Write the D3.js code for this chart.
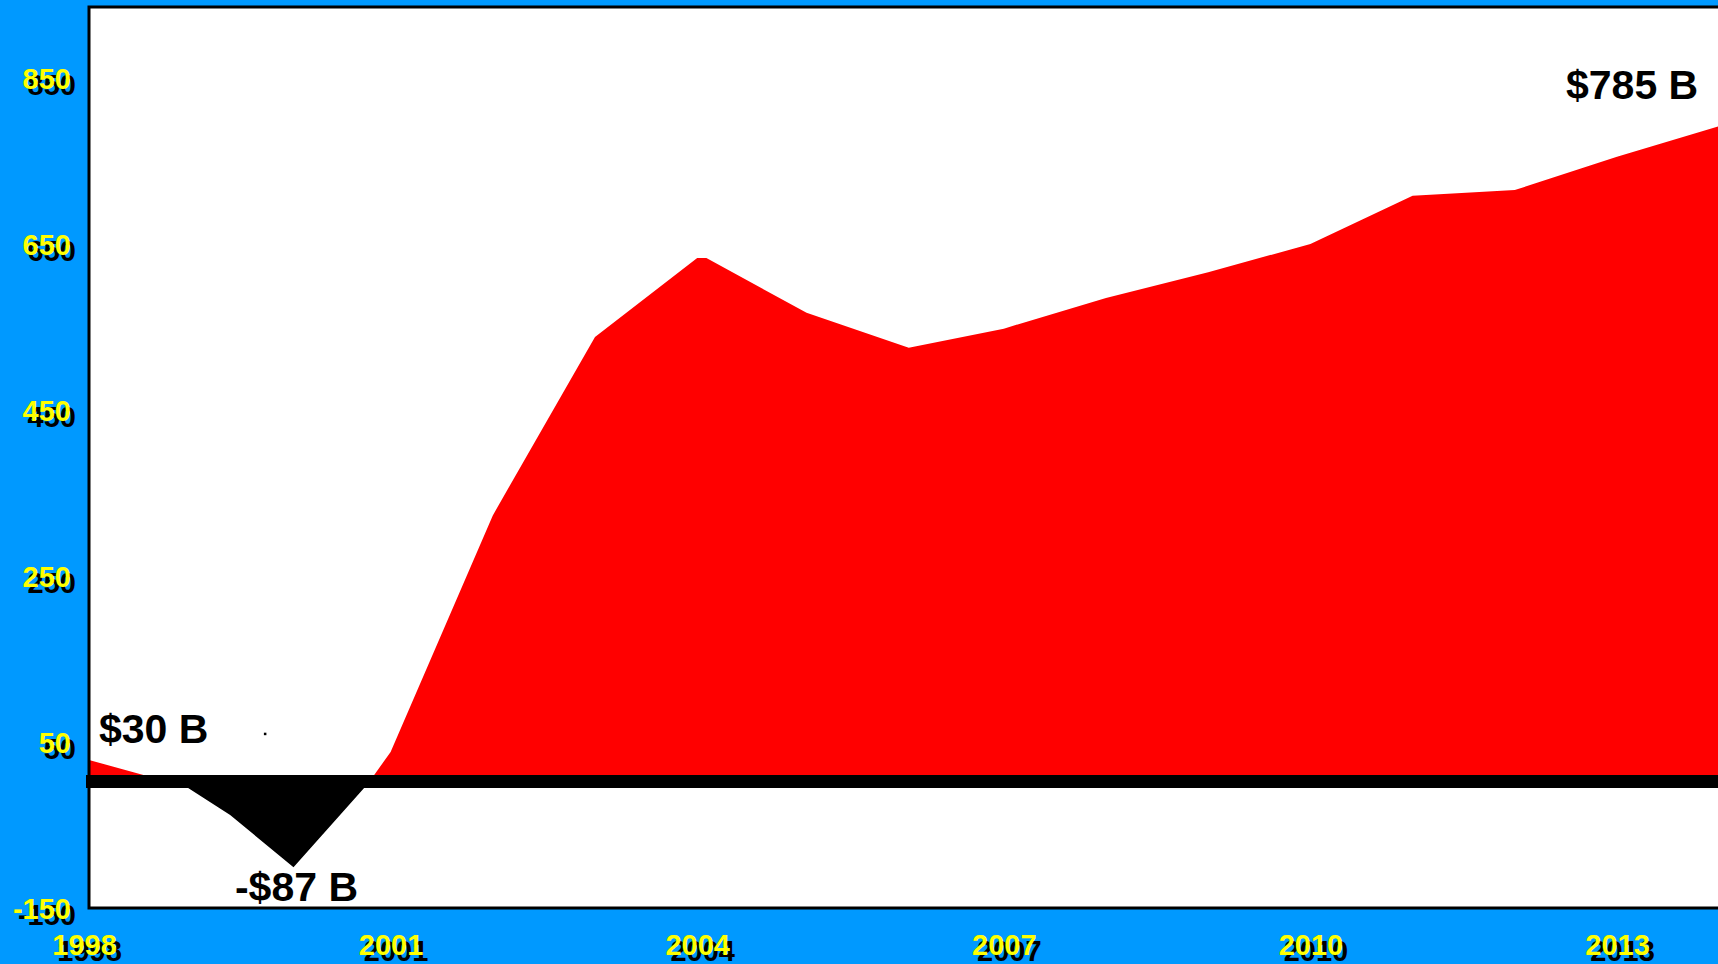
<!DOCTYPE html>
<html>
<head>
<meta charset="UTF-8">
<title>Area chart</title>
<script src="https://d3js.org/d3.v7.min.js"></script>
<style>
  html, body { margin: 0; padding: 0; background: #0099ff; }
  svg { display: block; }
</style>
</head>
<body>
<script>
  // values (billions of $), some vertices fall between years
  var years  = [1998, 1999, 1999.43, 2000.05, 2000.78, 2001, 2002, 2003, 2004, 2004.09,
                2005.07, 2006.07, 2007, 2008, 2009, 2010, 2011, 2012, 2013, 2014];
  var values = [30, -4, -38, -101, 0, 38, 323, 538, 633, 633,
                567, 525, 548, 585, 616, 650, 708, 715, 755, 792];
  var yTicks = [-150, 50, 250, 450, 650, 850];
  var xTicks = [1998, 2001, 2004, 2007, 2010, 2013];
  var labels = ["$30 B", "-$87 B", "$785 B"];
  var dotPoint = [1999.77, 60];   // the lone speck next to "$30 B"

  var width = 1718, height = 964;
  var plotLeft = 89, plotTop = 7, plotBottom = 908;

  var data = years.map(function(d, i) { return {x: d, y: values[i]}; });

  var x = d3.scaleLinear().domain([1998, 2014]).range([84, 84 + 16 * 102.2]);
  var y = d3.scaleLinear().domain([-150, 935.5]).range([plotBottom, plotTop]);

  var svg = d3.select("body").append("svg")
      .attr("width", width)
      .attr("height", height)
      .style("background-color", "#0099ff");

  var defs = svg.append("defs");
  defs.append("clipPath").attr("id", "above")
    .append("rect").attr("x", plotLeft).attr("y", plotTop)
    .attr("width", width - plotLeft + 10).attr("height", y(0) - plotTop);
  defs.append("clipPath").attr("id", "below")
    .append("rect").attr("x", plotLeft).attr("y", y(0))
    .attr("width", width - plotLeft + 10).attr("height", plotBottom - y(0));

  svg.append("rect")
    .attr("x", plotLeft).attr("y", plotTop)
    .attr("width", width - plotLeft + 10).attr("height", plotBottom - plotTop)
    .attr("fill", "#ffffff");

  var area = d3.area()
    .x(function(d) { return x(d.x); })
    .y0(y(0))
    .y1(function(d) { return y(d.y); });

  svg.append("path").datum(data)
    .attr("clip-path", "url(#above)")
    .attr("fill", "#ff0000")
    .attr("d", area);

  svg.append("path").datum(data)
    .attr("clip-path", "url(#below)")
    .attr("fill", "#000000")
    .attr("d", area);

  // heavy zero line
  svg.append("line")
    .attr("x1", 86).attr("x2", width)
    .attr("y1", y(0) - 2).attr("y2", y(0) - 2)
    .attr("stroke", "#000").attr("stroke-width", 13);

  // frame
  svg.append("rect")
    .attr("x", plotLeft).attr("y", plotTop)
    .attr("width", width - plotLeft + 20).attr("height", plotBottom - plotTop)
    .attr("fill", "none").attr("stroke", "#000").attr("stroke-width", 3);

  svg.append("rect")
    .attr("x", x(dotPoint[0]) - 1).attr("y", y(dotPoint[1]) - 1)
    .attr("width", 2.5).attr("height", 2.5)
    .attr("fill", "#000");

  // axes drawn twice: black shadow, then yellow
  function drawAxes(dx, dy, colour) {
    var ya = svg.append("g")
      .attr("transform", "translate(" + (plotLeft + dx) + "," + dy + ")")
      .call(d3.axisLeft(y).tickValues(yTicks).tickFormat(function(d) { return String(d); })
        .tickSize(0).tickPadding(18));
    var xa = svg.append("g")
      .attr("transform", "translate(" + dx + "," + (plotBottom + dy) + ")")
      .call(d3.axisBottom(x).tickValues(xTicks).tickFormat(function(d) { return String(d); })
        .tickSize(0).tickPadding(26));
    [ya, xa].forEach(function(g) {
      g.select(".domain").remove();
      g.selectAll("text")
        .attr("fill", colour)
        .style("font-family", "'Liberation Sans', Arial, sans-serif")
        .style("font-size", "29px")
        .style("font-weight", "bold");
    });
    ya.selectAll("text").attr("dy", "0.36em");
  }
  drawAxes(5, 6, "#000000");
  drawAxes(0, 0, "#ffff00");

  // value callouts
  var first = data[0], low = data[3], last = data[data.length - 1];
  var notes = [
    {t: labels[0], x: x(first.x) + 15, y: y(first.y) - 16, a: "start"},
    {t: labels[1], x: x(low.x) + 3, y: y(low.y) + 34, a: "middle"},
    {t: labels[2], x: x(last.x) - 21, y: y(last.y) - 27, a: "end"}
  ];
  svg.selectAll(".note").data(notes).enter().append("text")
    .attr("class", "note")
    .attr("x", function(d) { return d.x; })
    .attr("y", function(d) { return d.y; })
    .style("text-anchor", function(d) { return d.a; })
    .style("font-family", "'Liberation Sans', Arial, sans-serif")
    .style("font-size", "41px")
    .style("font-weight", "bold")
    .attr("fill", "#000")
    .text(function(d) { return d.t; });
</script>
</body>
</html>
